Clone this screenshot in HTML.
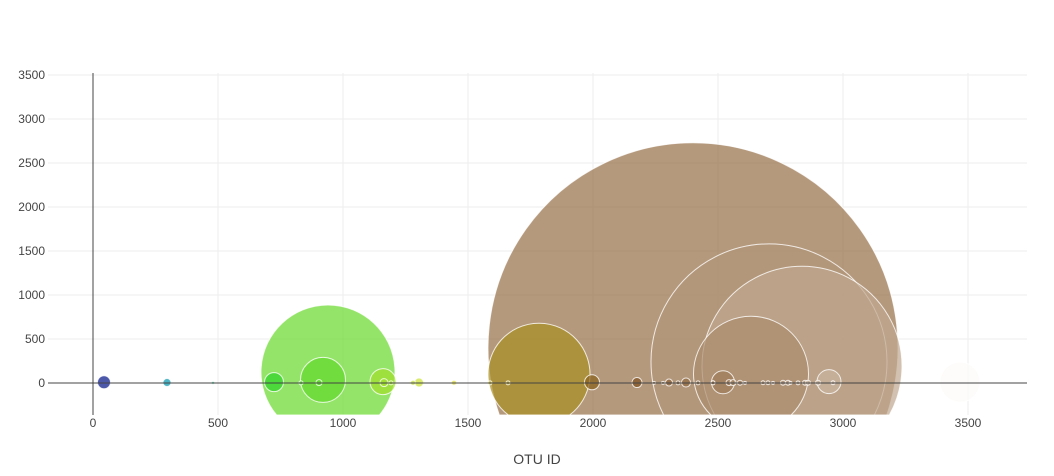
<!DOCTYPE html>
<html><head><meta charset="utf-8"><style>
html,body{margin:0;padding:0;background:#fff;width:1054px;height:476px;overflow:hidden;}
svg{display:block;font-family:"Liberation Sans",sans-serif;}
</style></head><body>
<svg id="chart" width="1054" height="476">
<g id="grid"></g>
<g id="bubbles"></g>
<g id="axes"></g>
<text x="537" y="464" text-anchor="middle" font-size="14" fill="#444">OTU ID</text>
</svg>
<script>
const otuIds = [2400,2704,2836,1784,2632,940,920,3468,1160,2944,2520,724,1996,44,2176,1304,2372,296,2304,904,1164,2544,2560,2680,2700,2760,2780,2848,2860,2900,2960,2480,2588,1280,1444,832,1192,1588,1660,480,2244,2280,2340,2420,2480,2608,2720,2790,2820];
const sampleValues = [400,240,190,100,105,125,35,10,15,15,8,10,8,8,5,5,5,5,5,4,4,4,4,3,3,3,3,3,3,3,3,3,3,3,3,2,2,2,2,2,2,2,2,2,2,2,2,2,2];
const markerSizes = [410,236,200,102,115,134,45,40,26,24,23,19,15,13,10,9,9,8,7,6,8,6,6,4,4,5,5,5,5,5,4,4,5,5,5,4,4,4,4,3,3,3,4,4,4,3,3,3,4];
const xTicks = [0,500,1000,1500,2000,2500,3000,3500];
const yTicks = [0,500,1000,1500,2000,2500,3000,3500];
const NS="http://www.w3.org/2000/svg";
const xs = v => 93 + v*0.25;
const ys = v => 383 - v*0.088;
const L=48,R=1027,T=73,B=415;
const earth=[[0,[0,0,130]],[0.1,[0,180,180]],[0.2,[40,210,40]],[0.4,[230,230,50]],[0.6,[120,70,20]],[1,[255,255,255]]];
function color(id){
  let t=(id-8)/(3500-8); t=Math.max(0,Math.min(1,t));
  for(let i=1;i<earth.length;i++){ if(t<=earth[i][0]){const a=earth[i-1],b=earth[i];const f=(t-a[0])/(b[0]-a[0]);
    return 'rgb('+a[1].map((c,k)=>Math.round(c+(b[1][k]-c)*f)).join(',')+')';}}
  return 'rgb(255,255,255)';
}
function mk(tag,attrs,parent){const e=document.createElementNS(NS,tag);for(const k in attrs)e.setAttribute(k,attrs[k]);parent.appendChild(e);return e;}
const grid=document.getElementById('grid'),axes=document.getElementById('axes'),bub=document.getElementById('bubbles');
xTicks.forEach(v=>{
  if(v!==0){const l=mk('line',{x1:xs(v),x2:xs(v),y1:T,y2:B,stroke:'#eee','stroke-width':1},grid);
  
  }
  const t=mk('text',{x:xs(v),y:427,'text-anchor':'middle','font-size':12,fill:'#444'},axes);t.textContent=v;
  
  
});
yTicks.forEach(v=>{
  if(v!==0){const l=mk('line',{x1:L,x2:R,y1:ys(v),y2:ys(v),stroke:'#eee','stroke-width':1},grid);
  
  }
  const t=mk('text',{x:45,y:ys(v)+4,'text-anchor':'end','font-size':12,fill:'#444'},axes);t.textContent=v;
  
  
});
otuIds.map((id,i)=>i).sort((a,b)=>markerSizes[b]-markerSizes[a]).forEach(i=>{
  const cx=xs(otuIds[i]), cy=ys(sampleValues[i]), r=markerSizes[i]/2;
  const style={fill:color(otuIds[i]),'fill-opacity':0.7,stroke:'#fff','stroke-opacity':0.8,'stroke-width':1};
  let el;
  if(cy+r>B){
    const dx=Math.sqrt(r*r-(B-cy)*(B-cy));
    const large=cy<B?1:0;
    el=mk('path',Object.assign({d:`M${cx-dx},${B} A${r},${r} 0 ${large} 1 ${cx+dx},${B} Z`},style),bub);
  } else {
    el=mk('circle',Object.assign({cx:cx,cy:cy,r:r},style),bub);
  }
  
  
});
const zx=mk('line',{x1:L,x2:R,y1:ys(0),y2:ys(0),stroke:'#444','stroke-width':1},axes);


const zy=mk('line',{x1:xs(0),x2:xs(0),y1:T,y2:B,stroke:'#444','stroke-width':1},axes);


</script>
</body></html>
